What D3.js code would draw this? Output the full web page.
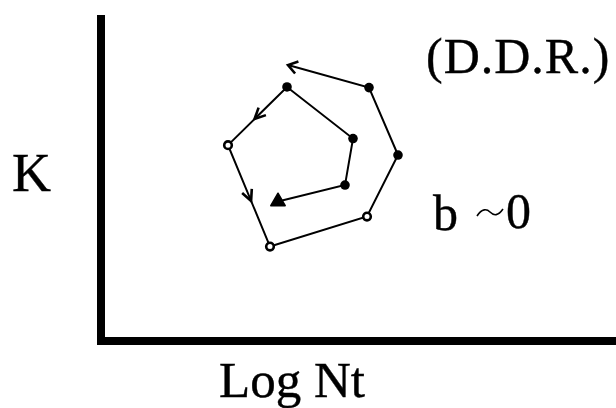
<!DOCTYPE html>
<html>
<head>
<meta charset="utf-8">
<script src="https://cdn.jsdelivr.net/npm/d3@7"></script>
<style>
  html, body { margin: 0; padding: 0; background: #fff; }
  svg { display: block; }
  text { font-family: "Liberation Serif", "DejaVu Serif", serif; fill: #000; stroke: #000; stroke-width: 0.4; }
</style>
</head>
<body>
<script>
// Trajectory in (Log Nt, K) space, in order of time
const logNt = [3.54, 4.88, 5.04, 3.72, 2.54, 3.38, 5.32, 5.94, 5.36, 3.74];
const kVals = [4.65, 5.20, 6.75, 8.47, 6.53, 3.15, 4.15, 6.20, 8.45, 9.20];
// the last point is only the tip of the final arrow (no marker)
const xLabel = "Log Nt";
const yLabel = "K";
const title = "(D.D.R.)";
const note = ["b", "0"];

const W = 616, H = 408;
const svg = d3.select("body").append("svg").attr("width", W).attr("height", H);

const x = d3.scaleLinear().domain([0, 10.3]).range([101, 616]);
const y = d3.scaleLinear().domain([0, 10.87]).range([341, 15]);

// thick L-shaped axes
svg.append("path")
  .attr("d", `M${x(0)},${y(10.87)}V${y(0)}H${x(10.3)}`)
  .attr("fill", "none").attr("stroke", "#000")
  .attr("stroke-width", 8).attr("stroke-linejoin", "miter");

const pts = logNt.map((v, i) => [x(v), y(kVals[i])]);

// connecting line
svg.append("path")
  .attr("d", d3.line()(pts))
  .attr("fill", "none").attr("stroke", "#000")
  .attr("stroke-width", 2);

function arrowHead(tip, dir, len, spread) {
  const ang = Math.atan2(dir[1], dir[0]);
  const a1 = ang + Math.PI - spread, a2 = ang + Math.PI + spread;
  const p1 = [tip[0] + len * Math.cos(a1), tip[1] + len * Math.sin(a1)];
  const p2 = [tip[0] + len * Math.cos(a2), tip[1] + len * Math.sin(a2)];
  svg.append("path")
    .attr("d", `M${p1}L${tip}L${p2}`)
    .attr("fill", "none").attr("stroke", "#000")
    .attr("stroke-width", 2.6).attr("stroke-linejoin", "miter");
}
function midArrow(i) {
  const a = pts[i], b = pts[i + 1];
  const d = [b[0] - a[0], b[1] - a[1]];
  const L = Math.hypot(d[0], d[1]);
  const u = [d[0] / L, d[1] / L];
  const tip = [a[0] + d[0] * 0.55, a[1] + d[1] * 0.55];
  arrowHead(tip, u, 12, 0.45);
}
midArrow(3);
midArrow(4);
{
  const n = pts.length;
  const a = pts[n - 2], b = pts[n - 1];
  const d = [b[0] - a[0], b[1] - a[1]];
  const L = Math.hypot(d[0], d[1]);
  arrowHead(b, [d[0] / L, d[1] / L], 11, 0.6);
}

// markers (all but arrow tip)
const open = new Set([4, 5, 6]);
pts.slice(0, -1).forEach((p, i) => {
  if (i === 0) {
    svg.append("path")
      .attr("d", d3.symbol(d3.symbolTriangle, 90)())
      .attr("transform", `translate(${p[0]},${p[1]})`)
      .attr("fill", "#000").attr("stroke", "#000").attr("stroke-width", 1.5)
      .attr("stroke-linejoin", "round");
  } else if (open.has(i)) {
    svg.append("circle").attr("cx", p[0]).attr("cy", p[1]).attr("r", 3.8)
      .attr("fill", "#fff").attr("stroke", "#000").attr("stroke-width", 2.6);
  } else {
    svg.append("circle").attr("cx", p[0]).attr("cy", p[1]).attr("r", 4.8)
      .attr("fill", "#000");
  }
});

// labels
svg.append("text").attr("x", 12).attr("y", 191)
  .attr("font-size", 54).text(yLabel);
svg.append("text").attr("x", 219).attr("y", 397)
  .attr("font-size", 51).text(xLabel);
svg.append("text").attr("x", 426).attr("y", 73)
  .attr("font-size", 50).attr("letter-spacing", 1).text(title);
svg.append("text").attr("x", 433).attr("y", 230)
  .attr("font-size", 50).text(note[0]);
svg.append("path")
  .attr("d", "M477,216 C482,208 487,209 490,212 C494,216 498,216 503,209")
  .attr("fill", "none").attr("stroke", "#000").attr("stroke-width", 1.6);
svg.append("text").attr("x", 506).attr("y", 228)
  .attr("font-size", 50).text(note[1]);
</script>
</body>
</html>
